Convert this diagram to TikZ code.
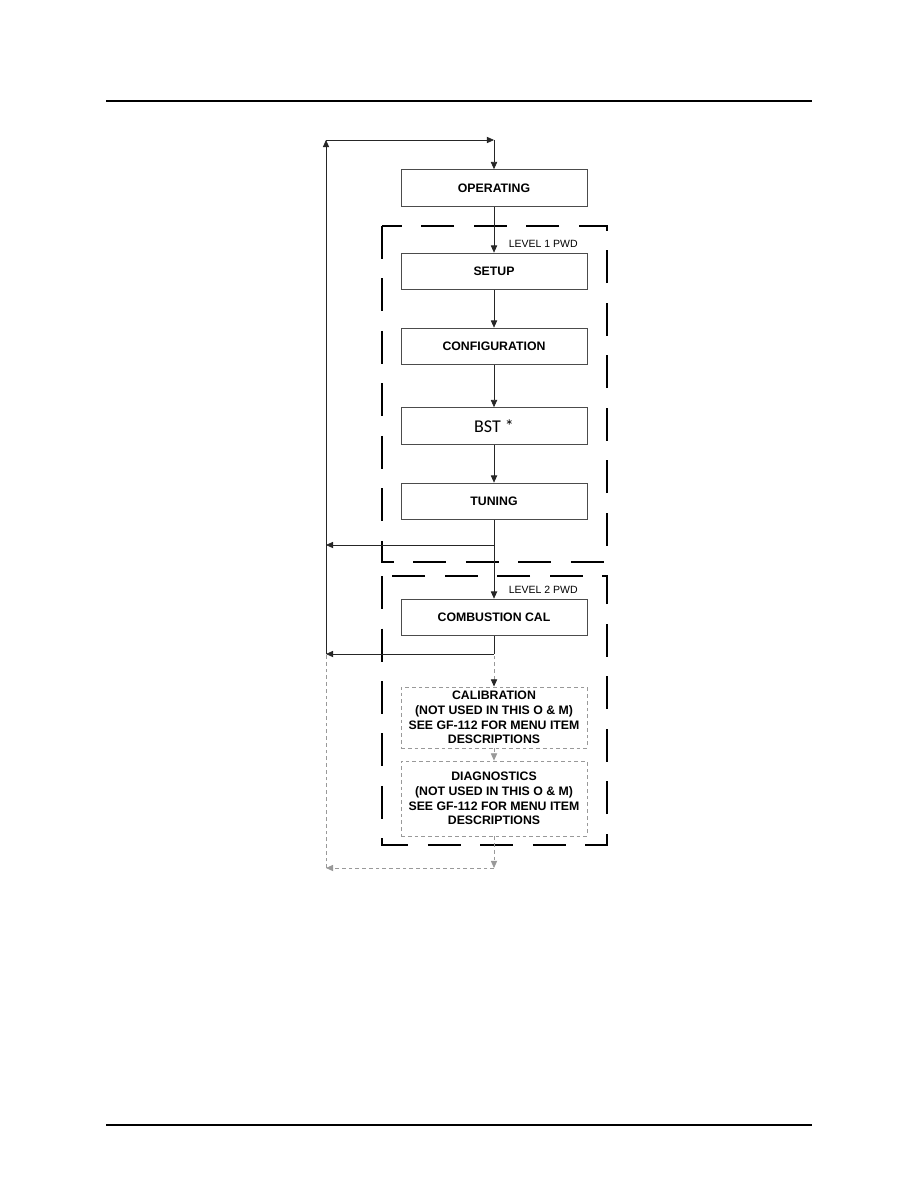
\documentclass[tikz,border=0pt]{standalone}
\usepackage{fontspec}
\setmainfont{Liberation Sans}
\newfontfamily\bstfont{Carlito}
\usetikzlibrary{arrows.meta,positioning}
\tikzset{
    menubox/.style={
        draw=black!70, rectangle, line width=0.6pt,
        minimum width=124pt, minimum height=24.5pt,
        inner sep=2pt, text=black, align=center,
        font=\bfseries\fontsize{8.2}{9.8}\selectfont
    },
    unusedbox/.style={
        menubox, draw=black!40, dash pattern=on 2.5pt off 2pt
    },
    levelframe/.style={
        black, line width=1.4pt, dash pattern=on 22pt off 13pt
    }
}

\begin{document}
\begin{tikzpicture}[
        x=0.6667pt, y=-0.6667pt,
        arr/.style={-{Triangle[length=4.8pt,width=4.2pt]}, line width=0.5pt, black!85},
        grayarr/.style={arr, black!40, dash pattern=on 2.5pt off 2pt},
        levellabel/.style={font=\fontsize{7}{8}\selectfont, anchor=east}
      ]
  \useasboundingbox (0,0) rectangle (918,1188);

  % page rules
  \draw[line width=1pt] (106,101) -- (812,101);
  \draw[line width=1pt] (106,1125) -- (812,1125);

  % password levels
  \draw[levelframe] (382,226) rectangle (607,562);
  \draw[levelframe] (382,576) rectangle (607,845);
  \node[levellabel] (lvl1) at (583,244) {LEVEL 1 PWD};
  \node[levellabel] (lvl2) at (583,590) {LEVEL 2 PWD};

  % menus
  \node[menubox]   (oper)  at (494,188)   {OPERATING};
  \node[menubox]   (setup) at (494,271.5) {SETUP};
  \node[menubox]   (conf)  at (494,346.5) {CONFIGURATION};
  \node[menubox]   (bst)   at (494,426)   {\bstfont\mdseries\fontsize{12}{14}\selectfont BST *};
  \node[menubox]   (tune)  at (494,501.5) {TUNING};
  \node[menubox]   (comb)  at (494,617.5) {COMBUSTION CAL};
  \node[unusedbox, minimum height=40.7pt] (calib) at (494,717.5)
      {CALIBRATION\\(NOT USED IN THIS O \& M)\\SEE GF-112 FOR MENU ITEM\\DESCRIPTIONS};
  \node[unusedbox, minimum height=50pt] (diag) at (494,798.5)
      {DIAGNOSTICS\\(NOT USED IN THIS O \& M)\\SEE GF-112 FOR MENU ITEM\\DESCRIPTIONS};

  % return path
  \coordinate (top) at (494,140);
  \coordinate (tl)  at (326,140);
  \coordinate (j1)  at (494,545);
  \coordinate (l1)  at (326,545);
  \coordinate (j2)  at (494,654);
  \coordinate (l2)  at (326,654);
  \coordinate (bj)  at (494,868);
  \coordinate (bl)  at (326,868);

  \draw[arr] (l2) -- (tl);
  \draw[arr] (tl) -- (top);
  \draw[arr] (top) -- (oper);
  \draw[arr] (oper) -- (setup);
  \draw[arr] (setup) -- (conf);
  \draw[arr] (conf) -- (bst);
  \draw[arr] (bst) -- (tune);
  \draw[arr] (tune) -- (comb);
  \draw[arr] (j1) -- (l1);
  \draw[line width=0.5pt, black!85] (comb) -- (j2);
  \draw[arr] (j2) -- (l2);
  \draw[grayarr, {Triangle[length=4.8pt,width=4.2pt,black!85]}-] (calib) -- (j2);
  \draw[grayarr] (calib) -- (diag);
  \draw[grayarr] (diag) -- (bj);
  \draw[grayarr] (bj) -- (bl);
  \draw[black!40, line width=0.5pt, dash pattern=on 2.5pt off 2pt] (bl) -- (l2);

\end{tikzpicture}
\end{document}
